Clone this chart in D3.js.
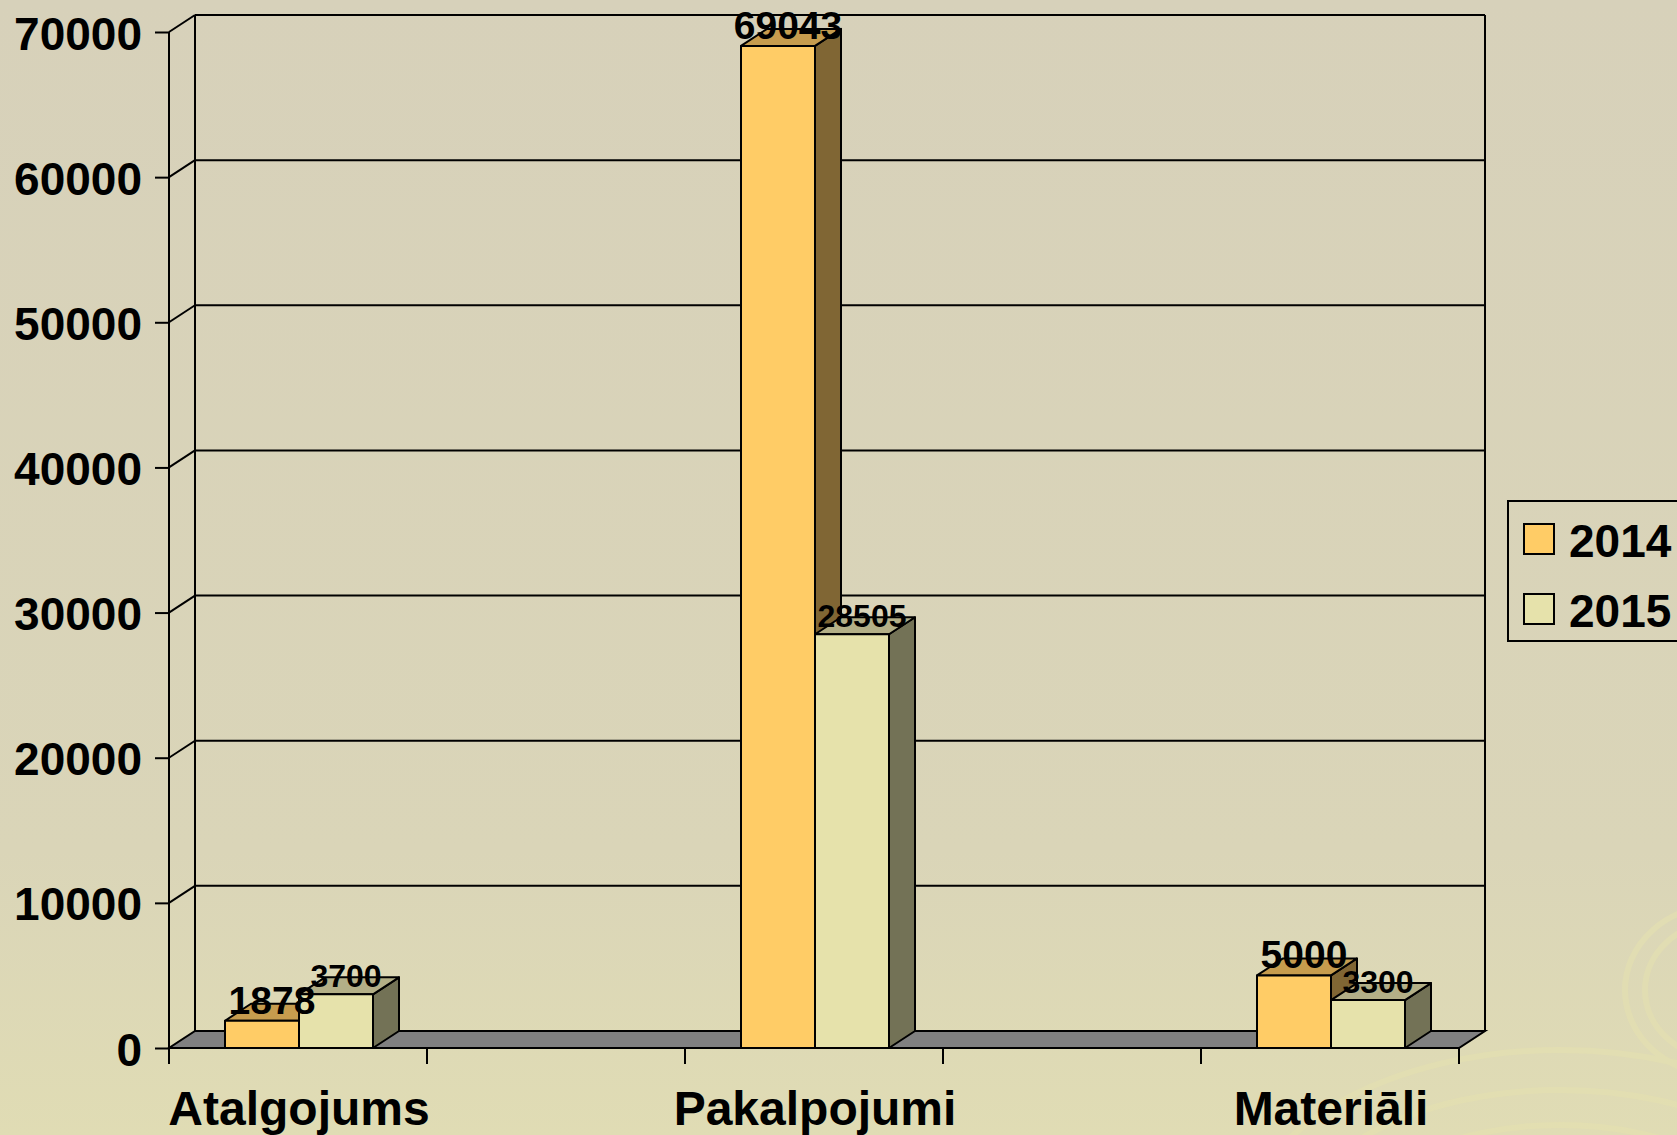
<!DOCTYPE html>
<html>
<head>
<meta charset="utf-8">
<script src="https://cdn.jsdelivr.net/npm/d3@7"></script>
<style>
  html, body { margin: 0; padding: 0; overflow: hidden; }
  svg { display: block; font-family: Arial, "Liberation Sans", sans-serif; font-weight: bold; }
</style>
</head>
<body>
<div id="chart"></div>
<script>
const w = 1677;
const h = 1135;

const categories = ["Atalgojums", "Pakalpojumi", "Materiāli"];
const seriesNames = ["2014", "2015"];
const values2014 = [1878, 69043, 5000];
const values2015 = [3700, 28505, 3300];
const yTicks = [0, 10000, 20000, 30000, 40000, 50000, 60000, 70000];

const series = [
  { name: seriesNames[0], values: values2014, front: "#FFCC66", top: "#C69C4E", side: "#806634", labelSize: 39 },
  { name: seriesNames[1], values: values2015, front: "#E6E2AB", top: "#B3AF87", side: "#737256", labelSize: 32 }
];

// depth of the 3d box
const dx = 26;
const dy = -17;

const svg = d3.select("#chart").append("svg")
  .attr("width", w)
  .attr("height", h);

// background
const defs = svg.append("defs");
const grad = defs.append("linearGradient").attr("id", "bg")
  .attr("x1", 0).attr("y1", 0).attr("x2", 0).attr("y2", 1);
grad.append("stop").attr("offset", "0%").attr("stop-color", "#D7D1BA");
grad.append("stop").attr("offset", "75%").attr("stop-color", "#DAD5B8");
grad.append("stop").attr("offset", "100%").attr("stop-color", "#E0DCB4");
svg.append("rect").attr("width", w).attr("height", h).attr("fill", "url(#bg)");

// faint swirls in the lower right corner
const swirls = svg.append("g").attr("fill", "none").attr("stroke", "#E6E2B0").attr("opacity", 0.55);
[[1560, 1240, 320, 190], [1560, 1240, 270, 150], [1560, 1240, 215, 115], [1720, 990, 95, 85], [1720, 990, 75, 68]]
  .forEach((e) => {
    swirls.append("ellipse")
      .attr("cx", e[0]).attr("cy", e[1]).attr("rx", e[2]).attr("ry", e[3])
      .attr("stroke-width", 6);
  });

const y = d3.scaleLinear().domain([0, 70000]).range([1048, 32]);
const x = d3.scalePoint().domain(categories).range([299, 1331]);
const barW = 74;
const x0 = 169;
const x1 = 1459;

const plot = svg.append("g").attr("stroke", "#000").attr("stroke-width", 2).attr("fill", "none");

// side wall and back wall
plot.append("line").attr("x1", x0 + dx).attr("x2", x0 + dx).attr("y1", y(70000) + dy).attr("y2", y(0) + dy);
plot.append("line").attr("x1", x1 + dx).attr("x2", x1 + dx).attr("y1", y(70000) + dy).attr("y2", y(0) + dy);

yTicks.filter((d) => d > 0).forEach((t) => {
  plot.append("line")
    .attr("x1", x0 + dx).attr("x2", x1 + dx)
    .attr("y1", y(t) + dy).attr("y2", y(t) + dy);
  plot.append("line")
    .attr("x1", x0).attr("x2", x0 + dx)
    .attr("y1", y(t)).attr("y2", y(t) + dy);
});

// floor
plot.append("path")
  .attr("d", `M${x0},${y(0)}L${x1},${y(0)}L${x1 + dx},${y(0) + dy}L${x0 + dx},${y(0) + dy}Z`)
  .attr("fill", "#808080");

// y axis
const yAxis = d3.axisLeft(y).tickValues(yTicks).tickSize(14).tickPadding(13).tickFormat(d3.format("d"));
const gy = svg.append("g").attr("transform", `translate(${x0},0)`).call(yAxis);
gy.select(".domain").attr("stroke", "#000").attr("stroke-width", 2).attr("d", `M0,${y(70000)}V${y(0)}`);
gy.selectAll(".tick line").attr("stroke", "#000").attr("stroke-width", 2);
gy.selectAll(".tick text")
  .attr("fill", "#000")
  .attr("dy", "0.37em")
  .style("font-size", "46px")
  .style("font-weight", "bold")
  .style("font-family", "Arial, 'Liberation Sans', sans-serif");

// x axis line and tick marks
const xt = d3.scaleLinear().domain([0, 5]).range([x0, x1]);
const gx = svg.append("g").attr("stroke", "#000").attr("stroke-width", 2);
gx.append("line").attr("x1", x0).attr("x2", x1).attr("y1", y(0)).attr("y2", y(0));
d3.range(6).forEach((i) => {
  gx.append("line").attr("x1", xt(i)).attr("x2", xt(i)).attr("y1", y(0)).attr("y2", y(0) + 16);
});

svg.append("g").selectAll("text").data(categories).enter().append("text")
  .attr("x", (d) => x(d))
  .attr("y", 1125)
  .attr("text-anchor", "middle")
  .style("font-size", "48px")
  .text((d) => d);

// bars
const bars = svg.append("g").attr("stroke", "#000").attr("stroke-width", 2).attr("stroke-linejoin", "round");
categories.forEach((c, ci) => {
  series.forEach((s, si) => {
    const bx = x(c) - barW + si * barW;
    const by = y(s.values[ci]);
    const b0 = y(0);
    bars.append("path")
      .attr("d", `M${bx + barW},${by}L${bx + barW + dx},${by + dy}L${bx + barW + dx},${b0 + dy}L${bx + barW},${b0}Z`)
      .attr("fill", s.side);
    bars.append("path")
      .attr("d", `M${bx},${by}L${bx + dx},${by + dy}L${bx + barW + dx},${by + dy}L${bx + barW},${by}Z`)
      .attr("fill", s.top);
    bars.append("rect")
      .attr("x", bx).attr("y", by)
      .attr("width", barW).attr("height", b0 - by)
      .attr("fill", s.front);
  });
});

// value labels
const labels = svg.append("g");
categories.forEach((c, ci) => {
  series.forEach((s, si) => {
    const bx = x(c) - barW + si * barW;
    labels.append("text")
      .attr("x", bx + barW / 2 + dx / 2 - 3)
      .attr("y", y(s.values[ci]) - 7)
      .attr("text-anchor", "middle")
      .style("font-size", s.labelSize + "px")
      .text(s.values[ci]);
  });
});

// legend
const legend = svg.append("g");
legend.append("rect")
  .attr("x", 1508).attr("y", 501).attr("width", 200).attr("height", 140)
  .attr("fill", "none").attr("stroke", "#000").attr("stroke-width", 2);
series.forEach((s, i) => {
  legend.append("rect")
    .attr("x", 1524).attr("y", 524 + i * 70)
    .attr("width", 30).attr("height", 30)
    .attr("fill", s.front).attr("stroke", "#000").attr("stroke-width", 2);
  legend.append("text")
    .attr("x", 1569).attr("y", 557 + i * 70)
    .style("font-size", "46px")
    .text(s.name);
});
</script>
</body>
</html>
